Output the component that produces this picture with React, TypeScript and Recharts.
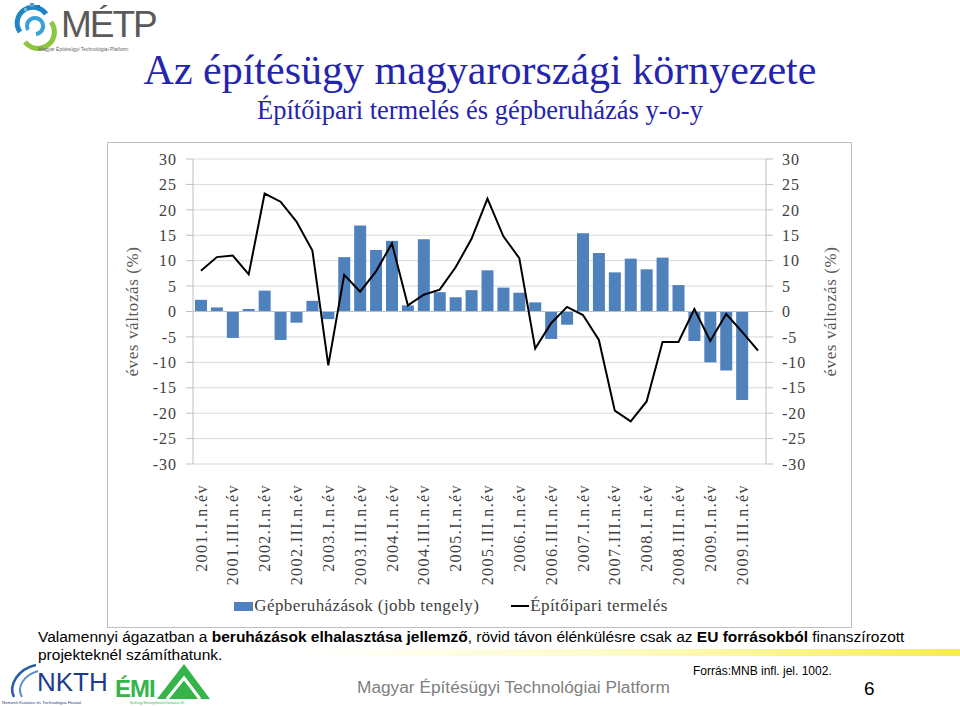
import React from 'react';
import {
    ComposedChart,
    Bar,
    Line,
    XAxis,
    YAxis,
    CartesianGrid,
    ReferenceLine,
    Legend
} from 'recharts';

// quarters 2001.I - 2009.IV (labels shown every other quarter)
const quarters = [
    '2001.I.n.év', '2001.II.n.év', '2001.III.n.év', '2001.IV.n.év',
    '2002.I.n.év', '2002.II.n.év', '2002.III.n.év', '2002.IV.n.év',
    '2003.I.n.év', '2003.II.n.év', '2003.III.n.év', '2003.IV.n.év',
    '2004.I.n.év', '2004.II.n.év', '2004.III.n.év', '2004.IV.n.év',
    '2005.I.n.év', '2005.II.n.év', '2005.III.n.év', '2005.IV.n.év',
    '2006.I.n.év', '2006.II.n.év', '2006.III.n.év', '2006.IV.n.év',
    '2007.I.n.év', '2007.II.n.év', '2007.III.n.év', '2007.IV.n.év',
    '2008.I.n.év', '2008.II.n.év', '2008.III.n.év', '2008.IV.n.év',
    '2009.I.n.év', '2009.II.n.év', '2009.III.n.év', '2009.IV.n.év',
];

// Gépberuházások (jobb tengely), %
const machineryInvestment = [
    2.3, 0.8, -5.2, 0.5, 4.1, -5.6, -2.2, 2.1,
    -1.5, 10.7, 16.9, 12.1, 13.9, 1.2, 14.2, 3.8,
    2.8, 4.2, 8.1, 4.7, 3.7, 1.8, -5.4, -2.6,
    15.4, 11.5, 7.7, 10.4, 8.3, 10.6, 5.2, -5.8,
    -10.0, -11.6, -17.4, null,
];

// Építőipari termelés, %
const constructionOutput = [
    8.0, 10.7, 11.0, 7.3, 23.2, 21.6, 17.7, 12.0,
    -10.6, 7.2, 3.9, 7.9, 13.4, 1.2, 3.3, 4.3,
    8.7, 14.3, 22.2, 14.8, 10.5, -7.3, -2.3, 0.9,
    -0.7, -5.6, -19.5, -21.6, -17.7, -6.0, -6.0, 0.5,
    -5.8, -0.5, -4.0, -7.7,
];

const yTicks = [-30, -25, -20, -15, -10, -5, 0, 5, 10, 15, 20, 25, 30];
const seriesNames = ['Gépberuházások (jobb tengely)', 'Építőipari termelés'];
const axisTitle = 'éves változás (%)';

const data = quarters.map((q, i) => ({
    q,
    gep: machineryInvestment[i],
    epito: constructionOutput[i],
}));

const SERIF = '"Liberation Serif", "Times New Roman", serif';
const SANS = '"Liberation Sans", Arial, sans-serif';
const BAR_COLOR = '#4f81bd';
const AXIS_GRAY = '#bfbfbf';
const TEXT_GRAY = '#404040';

function CategoryTick(props: any) {
    const { x, y, payload } = props;
    const ty = y + 12;
    return (
        <text
            x={x}
            y={ty}
            dy="0.35em"
            transform={`rotate(-90, ${x}, ${ty})`}
            textAnchor="end"
            fill={TEXT_GRAY}
            fontFamily={SERIF}
            fontSize={16}
            letterSpacing={1.4}
        >
            {payload.value}
        </text>
    );
}

const makeTitle = (shift: number) => (props: any) => {
    const { x, y, height } = props.viewBox;
    const cx = x + shift;
    const cy = y + height / 2;
    return (
        <text
            x={cx}
            y={cy}
            dy="0.35em"
            transform={`rotate(-90, ${cx}, ${cy})`}
            textAnchor="middle"
            fill="#595959"
            fontFamily={SERIF}
            fontSize={17}
            letterSpacing={0.6}
        >
            {axisTitle}
        </text>
    );
};

const renderLegend = () => (
    <div style={{
        display: 'flex', justifyContent: 'center', alignItems: 'center', height: 22,
        fontFamily: SERIF, fontSize: 17, color: TEXT_GRAY, letterSpacing: 0.4, paddingRight: 57,
    }}>
        <span style={{ display: 'inline-block', width: 19, height: 9, background: BAR_COLOR, marginRight: 1 }} />
        <span>{seriesNames[0]}</span>
        <span style={{ display: 'inline-block', width: 18, height: 2, background: '#000', marginLeft: 32, marginRight: 1 }} />
        <span>{seriesNames[1]}</span>
    </div>
);

function Decorations() {
    return (
        <svg width={960} height={706} style={{ position: 'absolute', left: 0, top: 0 }}>
            <defs>
                <linearGradient id="band" x1="0" y1="0" x2="1" y2="0">
                    <stop offset="0%" stopColor="#fbf56a" stopOpacity={0} />
                    <stop offset="45%" stopColor="#fbf56a" stopOpacity={0.35} />
                    <stop offset="100%" stopColor="#f6ec4a" stopOpacity={1} />
                </linearGradient>
            </defs>

            {/* MÉTP logo */}
            <path d="M 20 32 A 15 15 0 0 1 46 14" stroke="#1f86c6" strokeWidth={5} fill="none" />
            <path d="M 51 22 A 15 15 0 0 1 25 42" stroke="#8cc63f" strokeWidth={5} fill="none" />
            <path d="M 28 30 A 8 8 0 0 1 42 22 A 8 8 0 0 1 36 34" stroke="#3aa0d8" strokeWidth={4} fill="none" />
            <rect x={30} y={3} width={4} height={4} fill="#5b9bd5" />
            <rect x={37} y={5} width={3} height={3} fill="#2f6fb0" />
            <rect x={24} y={8} width={3} height={3} fill="#7ab8e0" />
            <text x={61} y={37} fontFamily={SANS} fontSize={37} fill="#5a5a5a" letterSpacing={-2}>MÉTP</text>
            <text x={38} y={51} fontFamily={SANS} fontSize={5} fill="#666">Magyar Építésügyi Technológiai Platform</text>

            <text x={480} y={84} textAnchor="middle" fontFamily={SERIF} fontSize={42} fill="#2424ad">
                Az építésügy magyarországi környezete
            </text>
            <text x={480} y={119} textAnchor="middle" fontFamily={SERIF} fontSize={26.5} fill="#2424ad">
                Építőipari termelés és gépberuházás y-o-y
            </text>

            <rect x={300} y={649} width={660} height={7} fill="url(#band)" />

            <text x={38} y={642} fontFamily={SANS} fontSize={15.5} fill="#000">
                Valamennyi ágazatban a <tspan fontWeight="bold">beruházások elhalasztása jellemző</tspan>, rövid távon élénkülésre csak az <tspan fontWeight="bold">EU forrásokból</tspan> finanszírozott
            </text>
            <text x={38} y={660} fontFamily={SANS} fontSize={15.5} fill="#000">projekteknél számíthatunk.</text>

            {/* NKTH logo */}
            <path d="M 14 697 C 8 685 18 669 36 665" stroke="#2a5aa8" strokeWidth={2.5} fill="none" />
            <path d="M 22 697 C 16 687 24 675 38 671" stroke="#5b8fd0" strokeWidth={2} fill="none" />
            <text x={37} y={691} fontFamily={SANS} fontSize={26} fill="#1d3d8a">NKTH</text>
            <text x={2} y={704} fontFamily={SANS} fontSize={4.4} fill="#1d3d8a">Nemzeti Kutatási és Technológiai Hivatal</text>

            {/* ÉMI logo */}
            <text x={115} y={697} fontFamily={SANS} fontWeight="bold" fontSize={24} fill="#35b44a" letterSpacing={-1}>ÉMI</text>
            <path d="M 157 699 L 184 664 L 210 699 Z" fill="#35b44a" />
            <path d="M 167 699 L 184 678 L 200 699" stroke="#fff" strokeWidth={3} fill="none" />
            <text x={130} y={704} fontFamily={SANS} fontSize={2.8} fill="#35b44a">Építésügyi Minőségellenőrző Innovációs Kft.</text>

            <text x={357} y={693} fontFamily={SANS} fontSize={17.3} fill="#7f7f7f">Magyar Építésügyi Technológiai Platform</text>
            <text x={693} y={675} fontFamily={SANS} fontSize={12} fill="#000">Forrás:MNB infl. jel. 1002.</text>
            <text x={864} y={695} fontFamily={SANS} fontSize={19} fill="#000">6</text>
        </svg>
    );
}

export default function App() {
    return (
        <div style={{ position: 'absolute', left: 0, top: 0, width: 960, height: 706, background: '#fff', overflow: 'hidden' }}>
            <Decorations />
            <div style={{
                position: 'absolute', left: 107, top: 142, width: 745, height: 486,
                boxSizing: 'border-box', border: `1px solid ${AXIS_GRAY}`, background: '#fff',
            }}>
                <ComposedChart width={743} height={484} data={data} margin={{ top: 16, right: 5, bottom: 10, left: 5 }}>
                    <CartesianGrid yAxisId="left" vertical={false} stroke="#d9d9d9" />
                    <XAxis
                        dataKey="q"
                        interval={1}
                        height={131}
                        axisLine={false}
                        tickLine={false}
                        tick={<CategoryTick />}
                    />
                    <YAxis
                        yAxisId="left"
                        domain={[-30, 30]}
                        ticks={yTicks}
                        width={80}
                        axisLine={{ stroke: AXIS_GRAY }}
                        tickLine={{ stroke: AXIS_GRAY }}
                        tickSize={7}
                        tickMargin={9}
                        tick={{ fill: TEXT_GRAY, fontSize: 16, fontFamily: SERIF, letterSpacing: 1 }}
                        label={makeTitle(19)}
                    />
                    <YAxis
                        yAxisId="right"
                        orientation="right"
                        domain={[-30, 30]}
                        ticks={yTicks}
                        width={80}
                        axisLine={{ stroke: AXIS_GRAY }}
                        tickLine={{ stroke: AXIS_GRAY }}
                        tickSize={7}
                        tickMargin={9}
                        tick={{ fill: TEXT_GRAY, fontSize: 16, fontFamily: SERIF, letterSpacing: 1 }}
                        label={makeTitle(64)}
                    />
                    <ReferenceLine yAxisId="left" y={0} stroke={AXIS_GRAY} />
                    <Bar yAxisId="right" dataKey="gep" name={seriesNames[0]} fill={BAR_COLOR} barSize={12} isAnimationActive={false} />
                    <Line
                        yAxisId="left"
                        dataKey="epito"
                        name={seriesNames[1]}
                        type="linear"
                        stroke="#000"
                        strokeWidth={2}
                        dot={false}
                        isAnimationActive={false}
                    />
                    <Legend verticalAlign="bottom" height={22} content={renderLegend} />
                </ComposedChart>
            </div>
        </div>
    );
}
